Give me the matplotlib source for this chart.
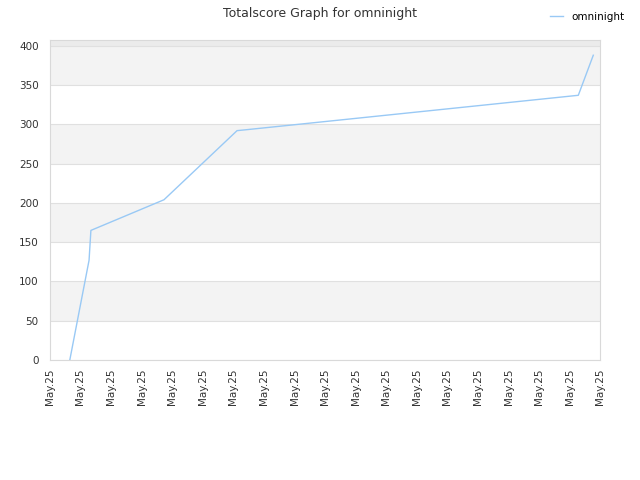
import matplotlib
matplotlib.use("Agg")
import matplotlib.pyplot as plt

# positions in tick units (19 ticks, all labelled May.25)
x = [0.65, 1.28, 1.34, 3.73, 6.12, 6.38, 17.28, 17.77]
score = [0, 127, 165, 204, 292, 293, 337, 388]
tick_labels = ["May.25"] * 19
player = "omninight"

fig = plt.figure(figsize=(6.4, 4.8), dpi=100)
ax = fig.add_axes([0.078, 0.25, 0.86, 0.667])

ymax = 407.6
# alternating bands
for lo in range(0, 400, 100):
    ax.axhspan(lo + 50, lo + 100, color="#f3f3f3", zorder=0, lw=0)
ax.axhspan(400, ymax, color="#ebebeb", zorder=0, lw=0)
for v in range(0, 401, 50):
    ax.axhline(v, color="#e0e0e0", lw=0.8, zorder=1)

ax.plot(x, score, color="#99c9f5", lw=1.0, label=player, zorder=3)

ax.set_xlim(0, 18)
ax.set_ylim(0, ymax)
ax.set_xticks(range(19))
ax.set_xticklabels(tick_labels, rotation=90, fontsize=7.5, color="#333333")
ax.set_yticks(range(0, 401, 50))
ax.tick_params(axis="y", labelsize=7.5, colors="#333333", length=0, pad=8)
ax.tick_params(axis="x", length=0, pad=6)
for s in ax.spines.values():
    s.set_color("#d9d9d9")

fig.suptitle("Totalscore Graph for omninight", fontsize=9, color="#333333", y=0.985)
fig.legend(loc="upper right", bbox_to_anchor=(0.99, 0.995), frameon=False,
           fontsize=7.5, handlelength=1.2)

fig.savefig("out.png", dpi=100)
